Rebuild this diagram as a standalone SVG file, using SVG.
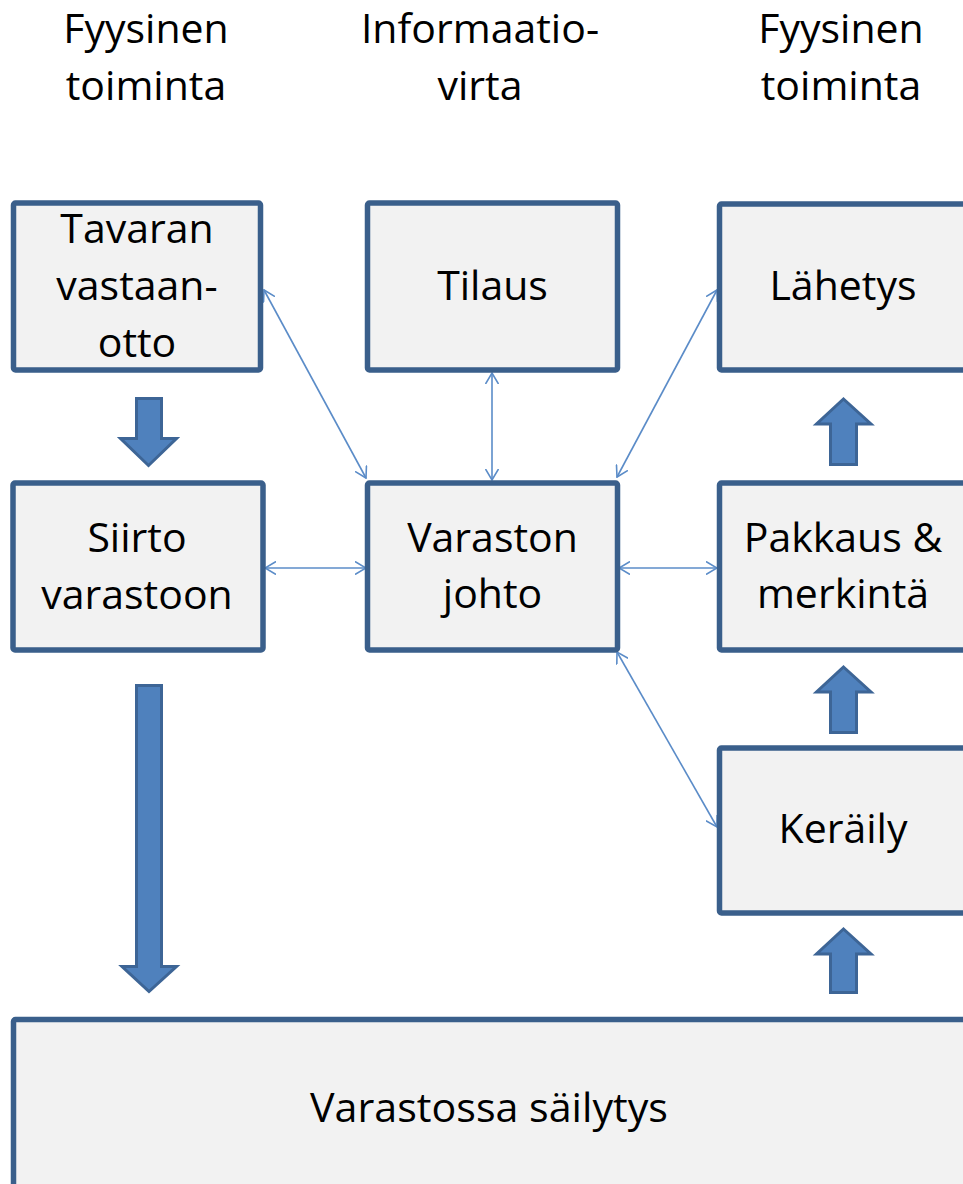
<svg xmlns="http://www.w3.org/2000/svg" width="963" height="1184" viewBox="0 0 963 1184">
<style>
.box{fill:#f2f2f2;stroke:#3a5f8b;stroke-width:5.5}
.t{font-family:"Open Sans","Liberation Sans",sans-serif;font-size:41px;fill:#000;text-anchor:middle}
.blk{fill:#4f81bd;stroke:#3d6596;stroke-width:3;stroke-linejoin:miter}
.ln{stroke:#5b8cc8;stroke-width:1.6;fill:none;marker-start:url(#ah);marker-end:url(#ah)}
</style>
<defs>
<marker id="ah" markerUnits="userSpaceOnUse" viewBox="0 0 12 14" refX="11" refY="7" markerWidth="12" markerHeight="14" orient="auto-start-reverse">
<path d="M0,0.5 L11,7 L0,13.5" fill="none" stroke="#5b8cc8" stroke-width="1.6"/>
</marker>
</defs>
<g id="headers">
<text class="t" x="146" y="43">Fyysinen</text>
<text class="t" x="146" y="100">toiminta</text>
<text class="t" x="480" y="43">Informaatio-</text>
<text class="t" x="480" y="100">virta</text>
<text class="t" x="841" y="43">Fyysinen</text>
<text class="t" x="841" y="100">toiminta</text>
</g>
<g id="connectors">
<line class="ln" x1="264" y1="290" x2="366" y2="478"/>
<line class="ln" x1="492" y1="373" x2="492" y2="480"/>
<line class="ln" x1="717" y1="290" x2="617" y2="477"/>
<line class="ln" x1="265" y1="568" x2="366" y2="568"/>
<line class="ln" x1="619" y1="568" x2="717" y2="568"/>
<line class="ln" x1="617" y1="652" x2="717" y2="827"/>
</g>
<g id="block-arrows">
<polygon class="blk" points="136.5,398.5 161.5,398.5 161.5,438.5 176.5,438.5 148.5,465.5 120.5,438.5 136.5,438.5"/>
<polygon class="blk" points="136.5,685.5 161.5,685.5 161.5,966.5 176.5,966.5 149,991.5 122,966.5 136.5,966.5"/>
<polygon class="blk" points="843.5,399 871,424 856.5,424 856.5,464.5 830.5,464.5 830.5,424 816.5,424"/>
<polygon class="blk" points="843.5,667 871,692 856.5,692 856.5,732.5 830.5,732.5 830.5,692 816.5,692"/>
<polygon class="blk" points="843.5,929 871,954 856.5,954 856.5,992.5 830.5,992.5 830.5,954 816.5,954"/>
</g>
<g id="n-vastaanotto">
<rect class="box" x="13.5" y="203" width="247" height="167" rx="2"/>
<text class="t" x="137" y="243">Tavaran</text>
<text class="t" x="137" y="300">vastaan-</text>
<text class="t" x="137" y="357">otto</text>
</g>
<g id="n-tilaus">
<rect class="box" x="367.5" y="203" width="250" height="167" rx="2"/>
<text class="t" x="492.5" y="300">Tilaus</text>
</g>
<g id="n-lahetys">
<rect class="box" x="719.5" y="204" width="270" height="166" rx="2"/>
<text class="t" x="843" y="300">Lähetys</text>
</g>
<g id="n-siirto">
<rect class="box" x="13" y="483" width="250" height="167" rx="2"/>
<text class="t" x="137" y="552">Siirto</text>
<text class="t" x="137" y="609">varastoon</text>
</g>
<g id="n-johto">
<rect class="box" x="367.5" y="483" width="250" height="167" rx="2"/>
<text class="t" x="492.5" y="552">Varaston</text>
<text class="t" x="492.5" y="608">johto</text>
</g>
<g id="n-pakkaus">
<rect class="box" x="719.5" y="483" width="270" height="167" rx="2"/>
<text class="t" x="843" y="552">Pakkaus &amp;</text>
<text class="t" x="843" y="608">merkintä</text>
</g>
<g id="n-keraily">
<rect class="box" x="719.5" y="748" width="270" height="165" rx="2"/>
<text class="t" x="843" y="843">Keräily</text>
</g>
<g id="n-sailytys">
<rect class="box" x="13.5" y="1019.5" width="1000" height="300" rx="2"/>
<text class="t" x="489" y="1122" textLength="358" lengthAdjust="spacingAndGlyphs">Varastossa säilytys</text>
</g>
</svg>
